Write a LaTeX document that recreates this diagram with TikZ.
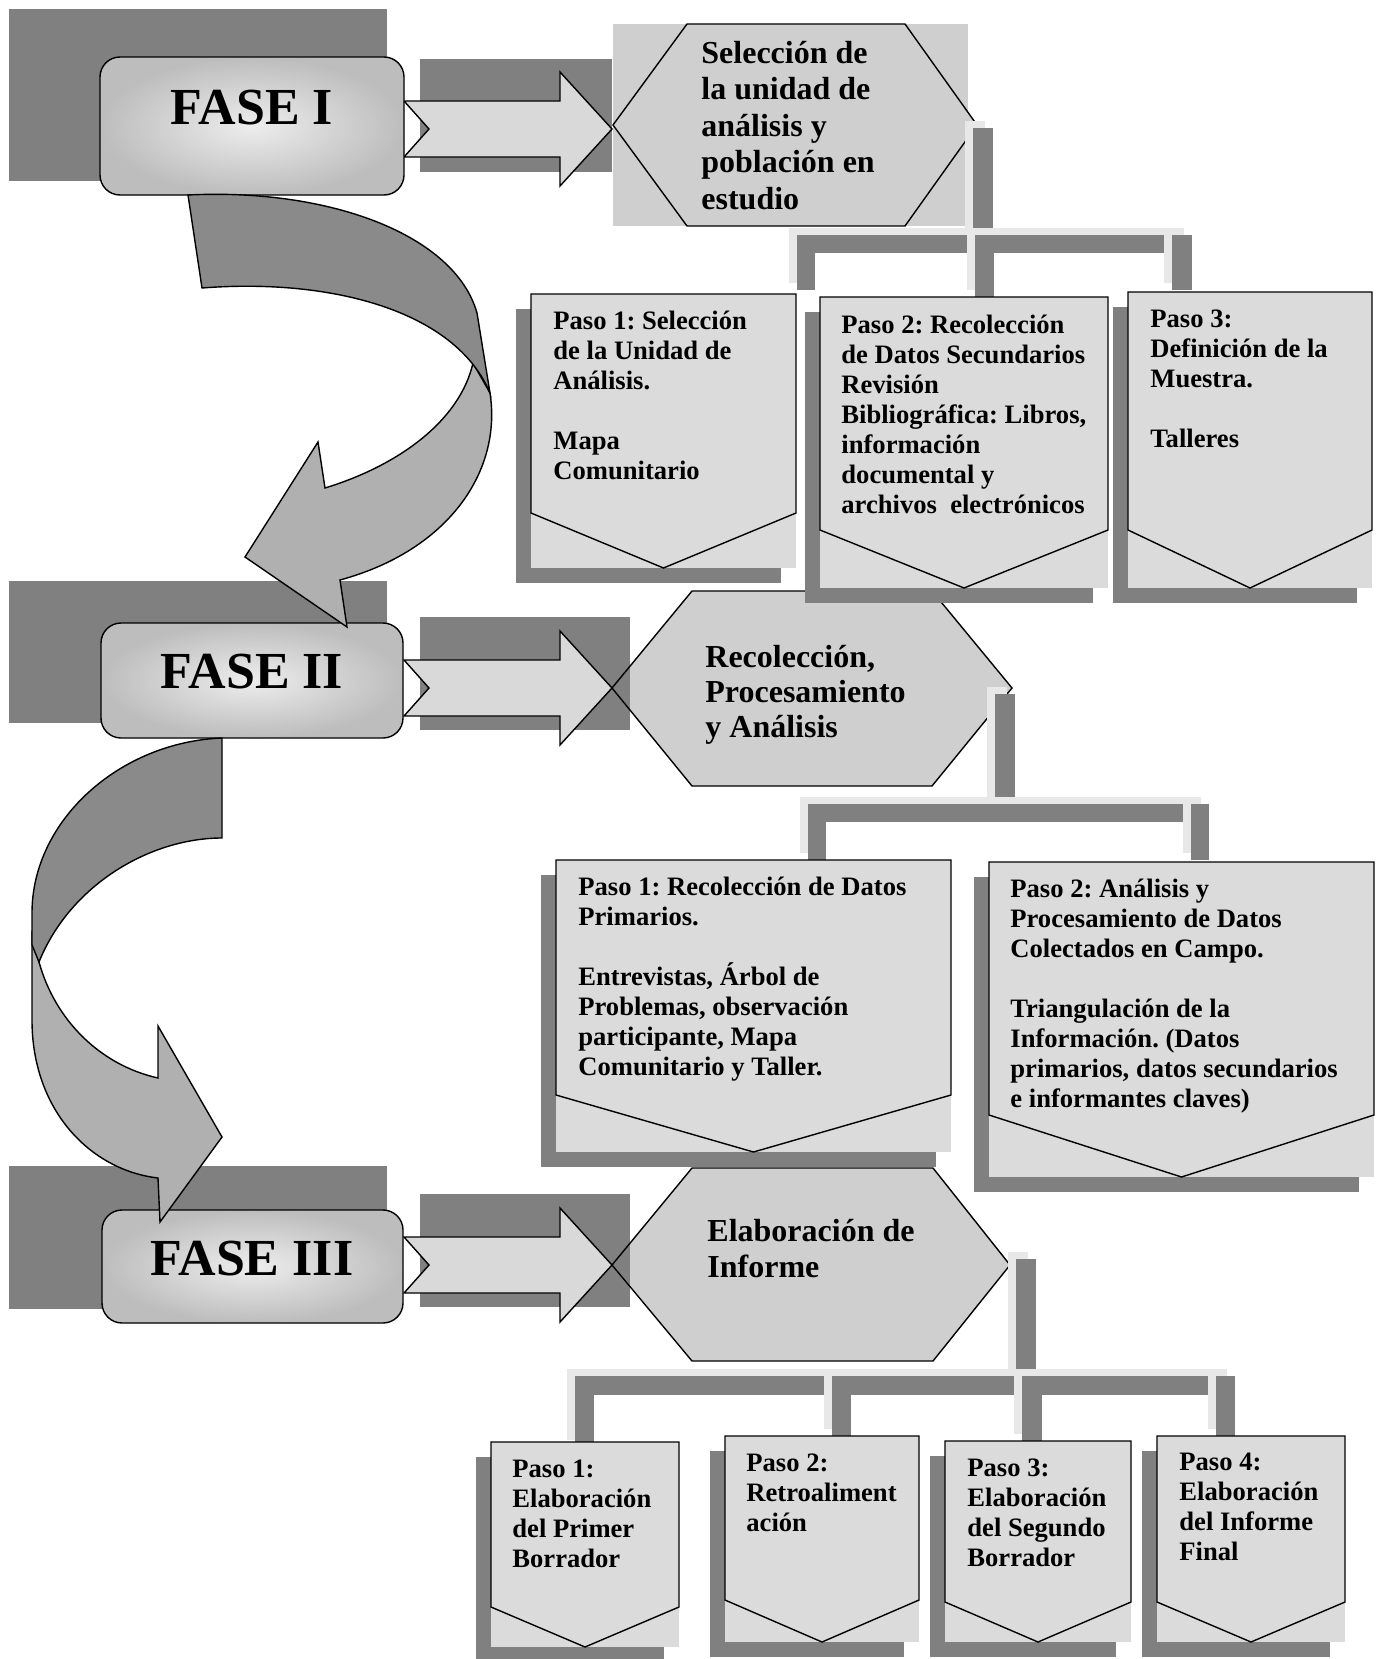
\documentclass[tikz,border=0pt]{standalone}
\usepackage{fontspec}
\setmainfont{Liberation Serif}
\frenchspacing
\definecolor{shd}{gray}{0.5}
\definecolor{boxg}{gray}{0.86}
\definecolor{hexg}{gray}{0.81}
\definecolor{arrg}{gray}{0.85}
\definecolor{cdark}{gray}{0.54}
\definecolor{clight}{gray}{0.69}
\definecolor{conlt}{gray}{0.91}
\definecolor{fasea}{gray}{0.93}
\definecolor{faseb}{gray}{0.74}
\tikzset{
  outl/.style={draw=black, line width=0.7pt, line join=miter},
  steptxt/.style={anchor=base west, inner sep=0pt, font=\fontsize{13.3}{15}\selectfont\bfseries},
  hextxt/.style={anchor=base west, inner sep=0pt, font=\fontsize{16}{18.2}\selectfont\bfseries},
  fasetxt/.style={anchor=base, inner sep=0pt, font=\fontsize{26}{30}\selectfont\bfseries},
  fasebox/.style={outl, rounded corners=10pt, inner color=fasea, outer color=faseb},
}
\newcommand\mystepbox[5]{%
  \fill[shd] (#1-15,#3+15) rectangle (#2-15,#5+15);
  \fill[boxg] (#1,#3) rectangle (#2,#5);
  \draw[outl] (#1,#3) -- (#2,#3) -- (#2,#4) -- ({(#1+#2)/2},#5) -- (#1,#4) -- cycle;}
\newcommand\conbar[4]{%
  \fill[conlt] (#1-8,#2-7) rectangle (#3-8,#4-7);
  \fill[shd] (#1,#2) rectangle (#3,#4);}
\newcommand\blockarrow[1]{%
  \draw[outl, fill=arrg] (404,#1-28) -- (560,#1-28) -- (560,#1-57) -- (612,#1)
    -- (560,#1+57) -- (560,#1+28) -- (404,#1+28) -- (429,#1) -- cycle;}
\newcommand\ptext[1]{\parbox[t]{320pt}{\raggedright\frenchspacing #1}}
\begin{document}
\begin{tikzpicture}[x=0.5pt, y=-0.5pt]
\useasboundingbox (0,0) rectangle (1380,1659);
\clip (0,0) rectangle (1380,1659);
\fill[white] (0,0) rectangle (1380,1659);

% FASE shadows
\fill[shd] (9,9) rectangle (387,181);
\fill[shd] (9,581) rectangle (387,723);
\fill[shd] (9,1166) rectangle (387,1309);

% hexagon fills
\coordinate (h1l) at (613,125); \coordinate (h1tl) at (687,24); \coordinate (h1tr) at (905,24);
\coordinate (h1r) at (977,125); \coordinate (h1br) at (905,226); \coordinate (h1bl) at (687,226);
\fill[hexg] (613,24) rectangle (968,226);
\fill[hexg] (h1l) -- (h1tl) -- (h1tr) -- (h1r) -- (h1br) -- (h1bl) -- cycle;
\coordinate (h2l) at (612,688); \coordinate (h2tl) at (692,591); \coordinate (h2tr) at (932,591);
\coordinate (h2r) at (1012,688); \coordinate (h2br) at (932,786); \coordinate (h2bl) at (692,786);
\fill[hexg] (h2l) -- (h2tl) -- (h2tr) -- (h2r) -- (h2br) -- (h2bl) -- cycle;
\coordinate (h3l) at (612,1265); \coordinate (h3tl) at (692,1168); \coordinate (h3tr) at (933,1168);
\coordinate (h3r) at (1010,1265); \coordinate (h3br) at (933,1361); \coordinate (h3bl) at (692,1361);
\fill[hexg] (h3l) -- (h3tl) -- (h3tr) -- (h3r) -- (h3br) -- (h3bl) -- cycle;

% arrow shadows
\fill[shd] (420,59) rectangle (612,172);
\fill[shd] (420,617) rectangle (630,730);
\fill[shd] (420,1194) rectangle (630,1307);

% hexagon outlines
\draw[outl] (h1l) -- (h1tl) -- (h1tr) -- (h1r) -- (h1br) -- (h1bl) -- cycle;
\draw[outl] (h2l) -- (h2tl) -- (h2tr) -- (h2r) -- (h2br) -- (h2bl) -- cycle;
\draw[outl] (h3l) -- (h3tl) -- (h3tr) -- (h3r) -- (h3br) -- (h3bl) -- cycle;

% block arrows
\blockarrow{129}
\blockarrow{688}
\blockarrow{1265}

% connector trees
\conbar{973}{128}{993}{253}
\conbar{799}{235}{1192}{253}
\conbar{797}{235}{815}{290}
\conbar{975}{235}{994}{297}
\conbar{1172}{235}{1192}{290}

\conbar{995}{694}{1015}{822}
\conbar{808}{804}{1209}{822}
\conbar{808}{804}{826}{860}
\conbar{1191}{804}{1209}{860}

\conbar{1016}{1259}{1036}{1395}
\conbar{575}{1376}{1235}{1395}
\conbar{575}{1376}{594}{1447}
\conbar{832}{1376}{851}{1436}
\conbar{1022}{1376}{1042}{1441}
\conbar{1216}{1376}{1235}{1436}

% step boxes
\mystepbox{531}{796}{294}{513}{568}
\mystepbox{820}{1108}{297}{530}{588}
\mystepbox{1128}{1372}{292}{530}{588}
\mystepbox{556}{951}{860}{1095}{1152}
\mystepbox{989}{1374}{862}{1115}{1177}
\mystepbox{491}{679}{1442}{1607}{1647}
\mystepbox{725}{919}{1436}{1600}{1642}
\mystepbox{945}{1131}{1441}{1602}{1642}
\mystepbox{1157}{1345}{1436}{1602}{1642}

% FASE boxes
\draw[fasebox] (100,57) rectangle (404,195);
\draw[fasebox] (101,623) rectangle (403,738);
\draw[fasebox] (102,1210) rectangle (403,1323);

% curved arrow 1
\draw[outl, fill=clight] (490,393) .. controls (502,470) and (450,550) .. (340,580)
  -- (347,627) -- (245,557) -- (318,442) -- (325,488)
  .. controls (400,465) and (460,420) .. (473,363) -- cycle;
\draw[outl, fill=cdark] (188,195) .. controls (330,188) and (455,235) .. (477,313)
  -- (490,393) .. controls (455,310) and (330,278) .. (202,288) -- cycle;

% curved arrow 2
\draw[outl, fill=clight] (32,935) -- (32,1020) .. controls (32,1110) and (90,1170) .. (158,1178)
  -- (160,1222) -- (222,1137) -- (158,1026) -- (158,1078)
  .. controls (100,1065) and (55,1020) .. (39,962) -- cycle;
\draw[outl, fill=cdark] (222,738) .. controls (120,742) and (32,820) .. (32,913)
  -- (32,945) -- (39,962) .. controls (70,885) and (150,838) .. (222,838) -- cycle;

% texts
\node[fasetxt] (f1) at (252,125) {FASE I};
\node[fasetxt] (f2) at (252,688) {FASE II};
\node[fasetxt] (f3) at (252,1275) {FASE III};

\node[hextxt] (t1) at (701,63.5) {\ptext{Selección de\\la unidad de\\análisis y\\población en\\estudio}};
\node[hextxt, font=\fontsize{16}{17.5}\selectfont\bfseries] (t2) at (705,667) {\ptext{Recolección,\\Procesamiento\\y Análisis}};
\node[hextxt, font=\fontsize{16}{18}\selectfont\bfseries] (t3) at (707,1241) {\ptext{Elaboración de\\Informe}};

\node[steptxt] (s11) at (553,329) {\ptext{Paso 1: Selección\\de la Unidad de\\Análisis.\\\mbox{}\\Mapa\\Comunitario}};
\node[steptxt] (s12) at (841,333) {\ptext{Paso 2: Recolección\\de Datos Secundarios\\Revisión\\Bibliográfica: Libros,\\información\\documental y\\archivos\ \ electrónicos}};
\node[steptxt] (s13) at (1150,327) {\ptext{Paso 3:\\Definición de la\\Muestra.\\\mbox{}\\Talleres}};

\node[steptxt] (s21) at (578,895) {\ptext{Paso 1: Recolección de Datos\\Primarios.\\\mbox{}\\Entrevistas, Árbol de\\Problemas, observación\\participante, Mapa\\Comunitario y Taller.}};
\node[steptxt] (s22) at (1010,897) {\ptext{Paso 2: Análisis y\\Procesamiento de Datos\\Colectados en Campo.\\\mbox{}\\Triangulación de la\\Información. (Datos\\primarios, datos secundarios\\e informantes claves)}};

\node[steptxt] (s31) at (512,1477) {\ptext{Paso 1:\\Elaboración\\del Primer\\Borrador}};
\node[steptxt] (s32) at (746,1471) {\ptext{Paso 2:\\Retroaliment\\ación}};
\node[steptxt] (s33) at (967,1476) {\ptext{Paso 3:\\Elaboración\\del Segundo\\Borrador}};
\node[steptxt] (s34) at (1179,1470) {\ptext{Paso 4:\\Elaboración\\del Informe\\Final}};
\end{tikzpicture}
\end{document}
